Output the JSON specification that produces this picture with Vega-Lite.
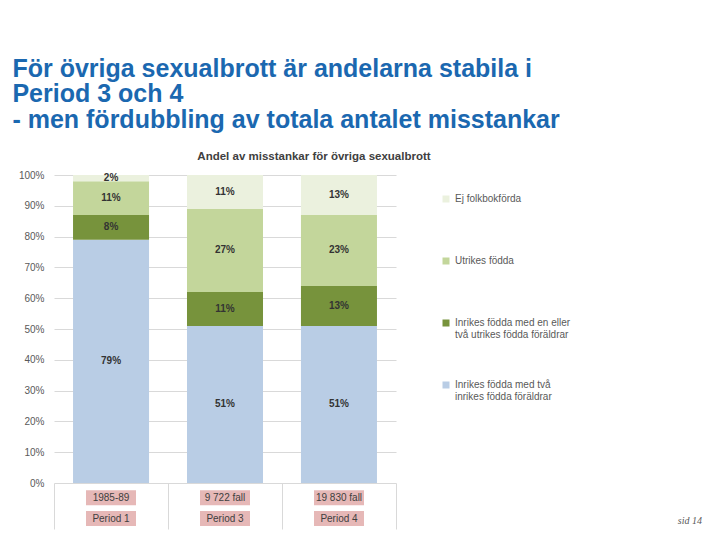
{
  "$schema": "https://vega.github.io/schema/vega-lite/v6.json",
  "padding": {"left": 12, "top": 56, "right": 5, "bottom": 3},
  "background": "white",
  "title": {
    "text": ["För övriga sexualbrott är andelarna stabila i", "Period 3 och 4", "- men fördubbling av totala antalet misstankar"],
    "anchor": "start", "font": "Liberation Sans", "fontSize": 25, "fontWeight": "bold",
    "color": "#1b68b0", "lineHeight": 25.5, "offset": 18, "dx": -6
  },
  "datasets": {
    "andelar": [
      {"period": "Period 1", "grupp": "Inrikes födda med två inrikes födda föräldrar", "ordning": 1, "andel": 0.79},
      {"period": "Period 1", "grupp": "Inrikes födda med en eller två utrikes födda föräldrar", "ordning": 2, "andel": 0.08},
      {"period": "Period 1", "grupp": "Utrikes födda", "ordning": 3, "andel": 0.11},
      {"period": "Period 1", "grupp": "Ej folkbokförda", "ordning": 4, "andel": 0.02},
      {"period": "Period 3", "grupp": "Inrikes födda med två inrikes födda föräldrar", "ordning": 1, "andel": 0.51},
      {"period": "Period 3", "grupp": "Inrikes födda med en eller två utrikes födda föräldrar", "ordning": 2, "andel": 0.11},
      {"period": "Period 3", "grupp": "Utrikes födda", "ordning": 3, "andel": 0.27},
      {"period": "Period 3", "grupp": "Ej folkbokförda", "ordning": 4, "andel": 0.11},
      {"period": "Period 4", "grupp": "Inrikes födda med två inrikes födda föräldrar", "ordning": 1, "andel": 0.51},
      {"period": "Period 4", "grupp": "Inrikes födda med en eller två utrikes födda föräldrar", "ordning": 2, "andel": 0.13},
      {"period": "Period 4", "grupp": "Utrikes födda", "ordning": 3, "andel": 0.23},
      {"period": "Period 4", "grupp": "Ej folkbokförda", "ordning": 4, "andel": 0.13}
    ],
    "tabell": [
      {"kolumn": "Period 1", "rad": "antal", "text": "1985-89"},
      {"kolumn": "Period 3", "rad": "antal", "text": "9 722 fall"},
      {"kolumn": "Period 4", "rad": "antal", "text": "19 830 fall"},
      {"kolumn": "Period 1", "rad": "period", "text": "Period 1"},
      {"kolumn": "Period 3", "rad": "period", "text": "Period 3"},
      {"kolumn": "Period 4", "rad": "period", "text": "Period 4"}
    ]
  },
  "bounds": "flush",
  "spacing": 0,
  "resolve": {"scale": {"x": "independent", "y": "independent", "color": "independent"}},
  "vconcat": [
    {
      "width": 342,
      "height": 308,
      "title": {
        "text": "Andel av misstankar för övriga sexualbrott",
        "font": "Liberation Sans", "fontSize": 11.5, "fontWeight": "bold", "color": "#404040",
        "anchor": "middle", "frame": "group", "dx": 89, "offset": 8
      },
      "data": {"name": "andelar"},
      "encoding": {
        "x": {
          "field": "period", "type": "nominal", "sort": ["Period 1", "Period 3", "Period 4"],
          "scale": {"paddingInner": 0.333, "paddingOuter": 0.167}, "axis": null
        },
        "order": {"field": "ordning", "type": "quantitative"}
      },
      "layer": [
        {
          "mark": {"type": "bar"},
          "encoding": {
            "y": {
              "field": "andel", "type": "quantitative", "stack": "zero",
              "scale": {"domain": [0, 1]},
              "axis": {
                "format": ".0%", "values": [0, 0.1, 0.2, 0.3, 0.4, 0.5, 0.6, 0.7, 0.8, 0.9, 1],
                "grid": true, "gridColor": "#d9d9d9", "domain": false, "ticks": false,
                "labelPadding": 10, "labelColor": "#595959", "labelFont": "Liberation Sans",
                "labelFontSize": 10, "title": null
              }
            },
            "color": {
              "field": "grupp", "type": "nominal",
              "scale": {
                "domain": ["Ej folkbokförda", "Utrikes födda", "Inrikes födda med en eller två utrikes födda föräldrar", "Inrikes födda med två inrikes födda föräldrar"],
                "range": ["#EBF1DE", "#C3D69B", "#77933C", "#B9CDE5"]
              },
              "legend": {
                "title": null, "orient": "right", "offset": 26, "padding": 19,
                "symbolType": "square", "symbolSize": 49, "symbolStrokeWidth": 0,
                "labelFont": "Liberation Sans", "labelFontSize": 10, "labelColor": "#595959",
                "rowPadding": 40, "gridAlign": "all", "labelLimit": 300,
                "labelExpr": "indexof(datum.label, 'en eller') > 0 ? ['Inrikes födda med en eller', 'två utrikes födda föräldrar'] : (indexof(datum.label, 'med två') > 0 ? ['Inrikes födda med två', 'inrikes födda föräldrar'] : datum.label)"
              }
            }
          }
        },
        {
          "mark": {"type": "text", "font": "Liberation Sans", "fontWeight": "bold", "fontSize": 10, "color": "#333333"},
          "encoding": {
            "y": {
              "field": "andel", "type": "quantitative", "stack": "zero", "bandPosition": 0.5,
              "axis": {
                "format": ".0%", "values": [0, 0.1, 0.2, 0.3, 0.4, 0.5, 0.6, 0.7, 0.8, 0.9, 1],
                "grid": true, "gridColor": "#d9d9d9", "domain": false, "ticks": false,
                "labelPadding": 10, "labelColor": "#595959", "labelFont": "Liberation Sans",
                "labelFontSize": 10, "title": null
              }
            },
            "detail": {"field": "grupp"},
            "text": {"field": "andel", "type": "quantitative", "format": ".0%"}
          }
        }
      ]
    },
    {
      "width": 342,
      "height": 46,
      "data": {"name": "tabell"},
      "title": {
        "text": "sid 14", "orient": "bottom", "anchor": "end", "frame": "group",
        "dx": 306, "dy": -13, "offset": 0,
        "font": "Liberation Serif", "fontStyle": "italic", "fontWeight": "normal",
        "fontSize": 10, "color": "#595959"
      },
      "encoding": {
        "x": {
          "field": "kolumn", "type": "nominal", "sort": ["Period 1", "Period 3", "Period 4"],
          "scale": {"paddingInner": 0, "paddingOuter": 0},
          "axis": {
            "labels": false, "ticks": false, "domain": false, "grid": true,
            "tickBand": "extent", "gridColor": "#d9d9d9", "title": null
          }
        },
        "y": {
          "field": "rad", "type": "nominal", "sort": ["antal", "period"],
          "scale": {"paddingInner": 0, "paddingOuter": 0.1, "align": 1},
          "axis": null
        }
      },
      "layer": [
        {"mark": {"type": "bar", "width": 50, "height": 15, "color": "#E6B8B7"}},
        {
          "mark": {"type": "text", "font": "Liberation Sans", "fontSize": 10, "color": "#404040"},
          "encoding": {"text": {"field": "text"}}
        }
      ]
    }
  ],
  "config": {
    "view": {"stroke": null}
  }
}
